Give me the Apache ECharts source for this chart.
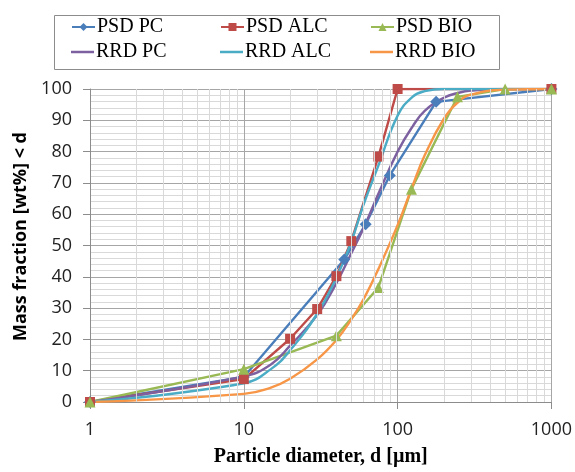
<!DOCTYPE html>
<html>
<head>
<meta charset="utf-8">
<script src="https://cdn.jsdelivr.net/npm/echarts@6/dist/echarts.min.js"></script>
<style>
html,body{margin:0;padding:0;background:#fff;}
#c{width:575px;height:472px;}
</style>
</head>
<body>
<div id="c"></div>
<script>
// ---- data ----
const psdPcD  = [1, 10, 45, 62, 89, 178, 1000];
const psdPcV  = [0, 8, 45.5, 56.8, 72.4, 95.9, 100];
const psdAlcD = [1, 10, 20, 30, 40, 50, 75, 100, 1000];
const psdAlcV = [0, 7.3, 20.2, 29.7, 40.2, 51.4, 78.4, 100, 100];
const psdBioD = [1, 10, 40, 75, 123, 245, 500, 1000];
const psdBioV = [0, 10.5, 21.2, 36.6, 68, 97.5, 100, 100];

const rrdD    = [1, 10, 15, 20, 30, 40, 50, 60, 75, 100, 125, 150, 200, 250, 300, 500, 1000];
const rrdPcV  = [0, 8.2, 12, 18, 27.8, 38, 47.5, 55.5, 66.5, 80, 88, 93, 97.2, 98.8, 99.5, 100, 100];
const rrdAlcV = [0, 6, 10.5, 16.5, 28.2, 39.7, 51.2, 63, 75.5, 91.5, 97.5, 99.3, 100, 100, 100, 100, 100];
const rrdBioV = [0, 2.6, 4.6, 7.4, 13.6, 19.8, 26.4, 32.8, 42.5, 56.5, 69, 78.8, 90.5, 96, 98.2, 99.8, 100];

const minorXTicks = [2,3,4,5,6,7,8,9,20,30,40,50,60,70,80,90,200,300,400,500,600,700,800,900];

const seriesNames = ['PSD PC','PSD ALC','PSD BIO','RRD PC','RRD ALC','RRD BIO'];
const colors = ['#4a7ebb','#be4b48','#98b954','#7d60a0','#4bacc6','#f79646'];

function pairs(xs, ys){ return xs.map((x,i)=>[x, ys[i]]); }

const chart = echarts.init(document.getElementById('c'), null, {renderer:'canvas'});

const legendPos = [
  {left:71, top:17}, {left:220, top:17}, {left:370, top:17},
  {left:71, top:42}, {left:220, top:42}, {left:370, top:42}
];
const legends = seriesNames.map((n,i)=>{
  const isRRD = i >= 3;
  return {
    data: isRRD ? [{name:n, icon:'rect'}] : [n],
    left:legendPos[i].left, top: legendPos[i].top + (isRRD ? 0 : 0), padding:0,
    itemWidth:23, itemHeight: isRRD ? 2.5 : 10, itemGap:0,
    textStyle:{fontFamily:'Liberation Serif', fontSize:20, color:'#000', padding:[0,0,0,-3]},
    selectedMode:false
  };
});

const lineW = 2.4;
const smoothK = 0.45;
const option = {
  animation:false,
  color: colors,
  legend: legends,
  graphic: [{
    type:'rect', left:52, top:13, shape:{width:445, height:54},
    style:{fill:'none', stroke:'#8c8c8c', lineWidth:1}, silent:true, z:-1
  }],
  grid:{left:90, right:22, top:89, bottom:64, containLabel:false},
  xAxis:{
    type:'log', logBase:10, min:1, max:1000,
    name:'Particle diameter, d [µm]', nameLocation:'middle', nameGap:45,
    nameTextStyle:{fontFamily:'Liberation Serif', fontWeight:'bold', fontSize:20, color:'#000'},
    axisLine:{show:true, lineStyle:{color:'#8c8c8c', width:1}},
    axisTick:{show:true, length:7, lineStyle:{color:'#8c8c8c'}},
    axisLabel:{fontFamily:'Open Sans', fontSize:18, color:'#222', margin:19,
               formatter: v => String(Math.round(v))},
    splitLine:{show:true, lineStyle:{color:'#a6a6a6', width:1}}
  },
  yAxis:{
    type:'value', min:0, max:100, interval:10,
    name:'Mass fraction [wt%] < d', nameLocation:'middle', nameGap:58,
    nameTextStyle:{fontFamily:'Open Sans', fontWeight:'bold', fontSize:18, color:'#000', padding:[0,0,0,18]},
    axisLine:{show:true, lineStyle:{color:'#8c8c8c', width:1}},
    axisTick:{show:true, length:7, lineStyle:{color:'#8c8c8c'}},
    axisLabel:{fontFamily:'Open Sans', fontSize:18, color:'#222', margin:18},
    splitLine:{show:true, lineStyle:{color:'#a6a6a6', width:1}},
    minorTick:{show:false, splitNumber:5},
    minorSplitLine:{show:true, lineStyle:{color:'#d9d9d9', width:1}}
  },
  series:[
    {
      name:'_minor', type:'line', data:[[1,0]], symbol:'none', silent:true, z:1,
      lineStyle:{opacity:0},
      markLine:{
        silent:true, symbol:['none','none'], label:{show:false}, animation:false,
        lineStyle:{color:'#d9d9d9', type:'solid', width:1},
        emphasis:{disabled:true},
        data: minorXTicks.map(v=>({xAxis:v}))
      }
    },
    {name:'PSD PC', type:'line', data:pairs(psdPcD, psdPcV), symbol:'diamond', symbolSize:12,
     lineStyle:{width:lineW}, itemStyle:{color:colors[0]}},
    {name:'PSD ALC', type:'line', data:pairs(psdAlcD, psdAlcV), symbol:'rect', symbolSize:10,
     lineStyle:{width:lineW}, itemStyle:{color:colors[1]}},
    {name:'PSD BIO', type:'line', data:pairs(psdBioD, psdBioV), symbol:'triangle', symbolSize:11,
     lineStyle:{width:lineW}, itemStyle:{color:colors[2]}},
    {name:'RRD PC', type:'line', data:pairs(rrdD, rrdPcV), symbol:'none', showSymbol:false, smooth:smoothK,
     lineStyle:{width:lineW}, itemStyle:{color:colors[3]}},
    {name:'RRD ALC', type:'line', data:pairs(rrdD, rrdAlcV), symbol:'none', showSymbol:false, smooth:smoothK,
     lineStyle:{width:lineW}, itemStyle:{color:colors[4]}},
    {name:'RRD BIO', type:'line', data:pairs(rrdD, rrdBioV), symbol:'none', showSymbol:false, smooth:smoothK,
     lineStyle:{width:lineW}, itemStyle:{color:colors[5]}}
  ]
};
chart.setOption(option);
</script>
</body>
</html>
